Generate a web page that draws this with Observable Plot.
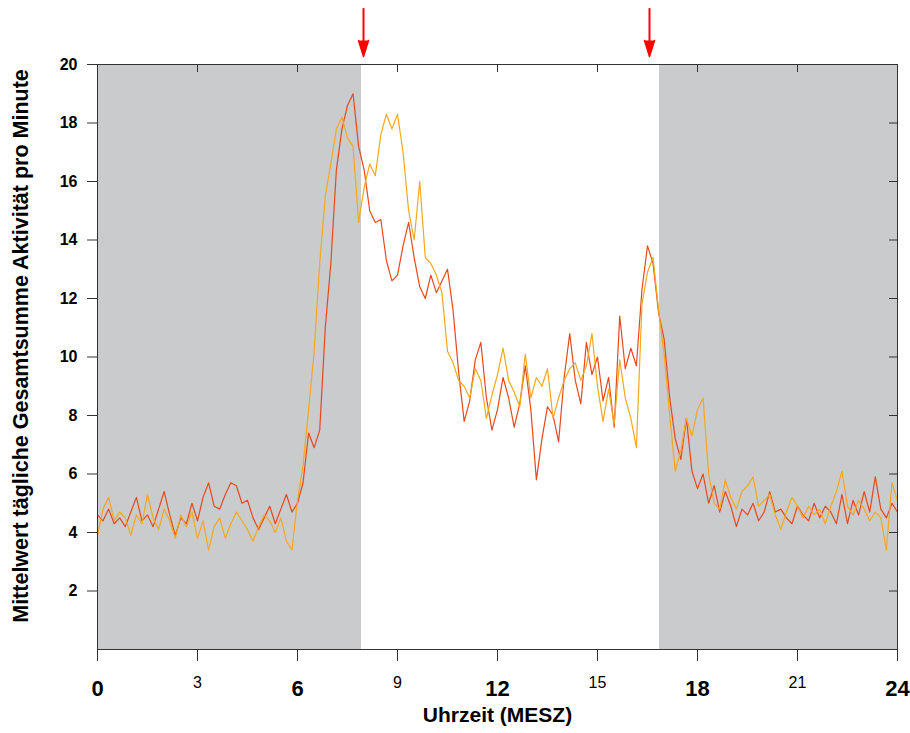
<!DOCTYPE html>
<html>
<head>
<meta charset="utf-8">
<script src="https://cdn.jsdelivr.net/npm/d3@7"></script>
<script src="https://cdn.jsdelivr.net/npm/@observablehq/plot@0.6"></script>
<style>
  html, body { margin: 0; padding: 0; background: #fff; }
</style>
</head>
<body>
<div id="chart"></div>
<script>
// sampling interval of the series (minutes)
const stepMinutes = 10;

// red series, one value every 10 minutes from 0:00 to 24:00
const redSeries = [
  4.6,4.4,4.8,4.3,4.5,4.2,
  4.7,5.2,4.4,4.6,4.2,4.8,
  5.4,4.6,3.9,4.5,4.3,5.0,
  4.4,5.2,5.7,4.9,4.8,5.3,
  5.7,5.6,5.0,5.1,4.5,4.1,
  4.5,4.9,4.3,4.8,5.3,4.7,
  5.0,5.7,7.4,6.9,7.5,11.0,
  13.2,16.4,17.8,18.6,19.0,17.2,
  16.4,15.0,14.6,14.7,13.3,12.6,
  12.8,13.8,14.6,13.4,12.4,12.0,
  12.8,12.2,12.6,13.0,11.6,9.5,
  7.8,8.5,9.9,10.5,8.6,7.5,
  8.2,9.3,8.6,7.6,8.4,9.7,
  8.2,5.8,7.2,8.3,8.0,7.1,
  9.3,10.8,9.2,8.4,10.5,9.4,
  10.0,8.5,9.3,7.6,11.4,9.6,
  10.3,9.7,12.3,13.8,13.2,11.5,
  10.6,8.6,7.2,6.5,7.9,6.1,
  5.5,6.0,5.0,5.6,4.7,5.4,
  4.9,4.2,4.8,4.6,5.0,4.4,
  4.7,5.4,4.7,4.8,4.5,4.3,
  4.9,4.6,4.4,5.0,4.5,4.9,
  4.7,4.3,5.3,4.3,5.1,4.6,
  5.4,4.7,5.9,4.8,4.5,5.0,
  4.7
];

// orange series, one value every 10 minutes from 0:00 to 24:00
const orangeSeries = [
  3.9,4.8,5.2,4.4,4.7,4.5,
  3.9,4.6,4.3,5.3,4.5,4.1,
  4.8,4.4,3.8,4.6,4.2,4.7,
  3.8,4.4,3.4,4.2,4.5,3.8,
  4.3,4.7,4.4,4.1,3.7,4.2,
  4.6,4.4,4.0,4.5,3.7,3.4,
  5.1,6.3,8.2,10.2,13.2,15.5,
  16.6,17.8,18.2,17.5,17.2,14.6,
  15.8,16.6,16.2,17.6,18.3,17.8,
  18.3,17.0,15.0,14.0,16.0,13.4,
  13.2,12.8,12.2,10.2,9.8,9.2,
  9.0,8.6,9.6,9.2,7.9,8.7,
  9.4,10.3,9.2,8.8,8.3,10.1,
  8.6,9.3,9.0,9.6,7.9,8.6,
  9.2,9.6,9.8,9.2,9.7,10.8,
  9.0,7.8,8.9,7.7,9.9,8.6,
  7.9,6.9,11.8,12.9,13.4,11.6,
  10.1,8.0,6.1,6.8,7.9,7.3,
  8.2,8.6,6.0,5.0,4.8,5.8,
  5.2,4.8,5.4,5.6,5.9,4.9,
  5.1,5.3,4.6,4.1,4.7,5.2,
  4.9,4.5,4.9,4.6,4.8,4.3,
  4.9,5.4,6.1,4.9,4.6,5.1,
  4.8,4.4,4.7,4.5,3.4,5.7,
  5.1
];

// dark (night) periods in hours
const nightStarts = [0, 16.86];
const nightEnds = [7.92, 24];

// arrows marking light on / light off (hours)
const arrowHours = [7.98, 16.56];

// tick labels
const xMajorTicks = [0, 6, 12, 18, 24];
const xMinorTicks = [3, 9, 15, 21];
const yTicks = [2, 4, 6, 8, 10, 12, 14, 16, 18, 20];

const yTitle = "Mittelwert tägliche Gesamtsumme Aktivität pro Minute";
const xTitle = "Uhrzeit (MESZ)";

const toRows = (vals) => vals.map((v, i) => ({hour: i * stepMinutes / 60, value: v}));
const redRows = toRows(redSeries);
const orangeRows = toRows(orangeSeries);
const nightRows = nightStarts.map((s, i) => ({start: s, end: nightEnds[i]}));
const allXTicks = [...xMajorTicks, ...xMinorTicks];

const frameColor = "#333";
const narrow = "'Liberation Sans Narrow', 'Arial Narrow', 'Liberation Sans', sans-serif";

const chart = Plot.plot({
  width: 910,
  height: 733,
  marginLeft: 97,
  marginRight: 13,
  marginTop: 64,
  marginBottom: 84,
  x: {domain: [0, 24]},
  y: {domain: [0, 20]},
  style: {fontFamily: "'Liberation Sans', Arial, sans-serif", background: "#fff", color: "#000"},
  marks: [
    Plot.rect(nightRows, {x1: "start", x2: "end", y1: 0, y2: 20, fill: "#c9cbcc"}),
    Plot.line(redRows, {x: "hour", y: "value", stroke: "#e8481c", strokeWidth: 1.2}),
    Plot.line(orangeRows, {x: "hour", y: "value", stroke: "#f4a81a", strokeWidth: 1.2}),
    Plot.frame({stroke: frameColor}),
    Plot.axisY(yTicks, {tickSize: 10, tickPadding: 10, fontSize: 16, fontWeight: "bold", label: null, stroke: frameColor}),
    Plot.tickY(yTicks, {y: d => d, insetLeft: 792, stroke: frameColor}),
    Plot.tickX(allXTicks, {x: d => d, insetBottom: 577, stroke: frameColor}),
    Plot.axisX(xMajorTicks, {tickSize: 12, tickPadding: 19, fontSize: 22, fontWeight: "bold", fontFamily: narrow, label: null, stroke: frameColor}),
    Plot.axisX(xMinorTicks, {tickSize: 12, tickPadding: 15, fontSize: 16, fontFamily: narrow, label: null, stroke: frameColor}),
    Plot.ruleX(arrowHours, {x: d => d, y1: 21.91, y2: 20.75, stroke: "#ff0000", strokeWidth: 2}),
    Plot.vector(arrowHours, {x: d => d, y: 20.82, length: 16, rotate: 180, anchor: "start", shape: "spike", r: 5, fill: "#ff0000", stroke: "#ff0000"}),
    Plot.text([yTitle], {text: d => d, frameAnchor: "left", textAnchor: "middle", rotate: -90, dx: -76, dy: -11, fontSize: 21.5, fontWeight: "bold"}),
    Plot.text([xTitle], {text: d => d, frameAnchor: "bottom", dy: 72, fontSize: 21, fontWeight: "bold", fontFamily: narrow})
  ]
});

document.getElementById("chart").appendChild(chart);
</script>
</body>
</html>
